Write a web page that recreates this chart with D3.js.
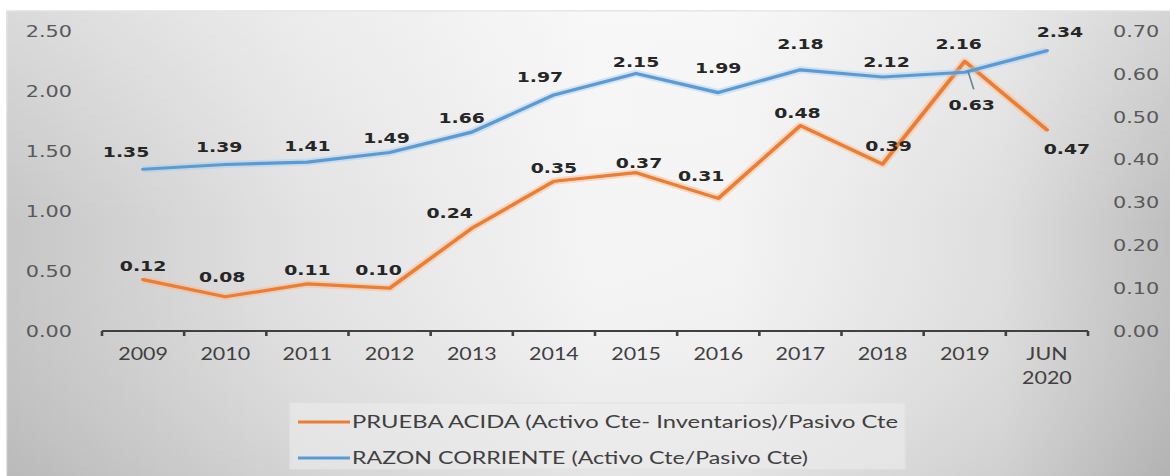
<!DOCTYPE html>
<html>
<head>
<meta charset="utf-8">
<script src="https://cdn.jsdelivr.net/npm/d3@7"></script>
<style>
  html, body { margin: 0; padding: 0; background: #fff; }
  svg { display: block; }
</style>
</head>
<body>
<svg id="chart"></svg>
<script>
// data
const years = ['2009', '2010', '2011', '2012', '2013', '2014', '2015', '2016', '2017', '2018', '2019', 'JUN 2020'];
const razonCorriente = [1.35, 1.39, 1.41, 1.49, 1.66, 1.97, 2.15, 1.99, 2.18, 2.12, 2.16, 2.34];
const pruebaAcida = [0.12, 0.08, 0.11, 0.10, 0.24, 0.35, 0.37, 0.31, 0.48, 0.39, 0.63, 0.47];
const leftTicks = [0, 0.5, 1, 1.5, 2, 2.5];
const rightTicks = [0, 0.1, 0.2, 0.3, 0.4, 0.5, 0.6, 0.7];
const legendNames = [
  'PRUEBA ACIDA (Activo Cte- Inventarios)/Pasivo Cte',
  'RAZON CORRIENTE (Activo Cte/Pasivo Cte)'
];

// hand placed label nudges (screen px), like the excel labels
const razonNudge = [[-17,-17],[-6,-18],[0,-16],[-3,-15],[-10,-14],[-14,-18],[0,-12],[0,-25],[0,-26],[4,-15],[-6,-28],[13,-19]];
const pruebaNudge = [[0,-14],[-3,-20],[0,-14],[-11,-18],[-22,-16],[0,-13],[3,-10],[-17,-23],[-3,-13],[6,-18],[7,43],[20,19]];

const W = 1170, H = 476;
const SX = 1.3;            // the picture is stretched sideways
const VW = W / SX;

const svg = d3.select('#chart')
  .attr('width', W)
  .attr('height', H)
  .attr('viewBox', `0 0 ${VW} ${H}`)
  .attr('preserveAspectRatio', 'none');

const defs = svg.append('defs');
const bg = defs.append('linearGradient').attr('id', 'bgH');
[[0, '#c6c6c6'], [0.25, '#e2e2e2'], [0.5, '#f4f4f4'], [0.62, '#f3f3f3'], [0.85, '#dedede'], [1, '#bdbdbd']]
  .forEach(s => bg.append('stop').attr('offset', s[0]).attr('stop-color', s[1]));
const bgV = defs.append('linearGradient').attr('id', 'bgV').attr('x2', 0).attr('y2', 1);
[[0, '#ffffff', 0.35], [0.45, '#ffffff', 0], [1, '#000000', 0.07]]
  .forEach(s => bgV.append('stop').attr('offset', s[0]).attr('stop-color', s[1]).attr('stop-opacity', s[2]));

// panel
svg.append('rect')
  .attr('x', 7 / SX).attr('y', 11)
  .attr('width', VW).attr('height', H)
  .attr('fill', 'url(#bgH)')
  .attr('stroke', '#d4d4d4').attr('stroke-width', 1);
svg.append('rect')
  .attr('x', 7 / SX).attr('y', 11)
  .attr('width', VW).attr('height', H)
  .attr('fill', 'url(#bgV)');

// scales
const x = d3.scaleBand().domain(years).range([102 / SX, 1088 / SX]);
const cx = d => x(d) + x.bandwidth() / 2;
const yL = d3.scaleLinear().domain([0, 2.5]).range([331, 31.5]);
const yR = d3.scaleLinear().domain([0, 0.7]).range([331, 31.5]);

// y axes
const leftAxis = svg.append('g')
  .attr('transform', `translate(${72 / SX},0)`)
  .call(d3.axisLeft(yL).tickValues(leftTicks).tickFormat(d3.format('.2f')).tickSize(0).tickPadding(0));
const rightAxis = svg.append('g')
  .attr('transform', `translate(${1113 / SX},0)`)
  .call(d3.axisRight(yR).tickValues(rightTicks).tickFormat(d3.format('.2f')).tickSize(0).tickPadding(0));
[leftAxis, rightAxis].forEach(g => {
  g.select('.domain').remove();
  g.selectAll('text')
    .attr('font-family', 'DejaVu Sans')
    .attr('font-size', 16)
    .attr('fill', '#595959');
});

// x axis: labels at the centres, ticks on the band edges
const xAxis = svg.append('g')
  .attr('transform', 'translate(0,331)')
  .call(d3.axisBottom(x).tickSize(0).tickPadding(17));
xAxis.select('.domain').remove();
xAxis.selectAll('text')
  .attr('font-family', 'Lato')
  .attr('font-size', 16.5)
  .attr('fill', '#404040')
  .each(function(d) {
    const parts = d.split(' ');
    if (parts.length > 1) {
      const t = d3.select(this).text(null);
      parts.forEach((p, i) => t.append('tspan').attr('x', 0).attr('dy', i === 0 ? '0.71em' : '1.45em').text(p));
    }
  });

svg.append('line')
  .attr('x1', x.range()[0]).attr('x2', x.range()[1])
  .attr('y1', 331).attr('y2', 331)
  .attr('stroke', '#404040').attr('stroke-width', 2);
svg.selectAll('.xtick')
  .data(d3.range(years.length + 1))
  .join('line')
  .attr('class', 'xtick')
  .attr('x1', i => x.range()[0] + i * x.step())
  .attr('x2', i => x.range()[0] + i * x.step())
  .attr('y1', 331).attr('y2', 336)
  .attr('stroke', '#404040').attr('stroke-width', 2);

// lines
const series = [
  {values: pruebaAcida, y: yR, color: '#ED7D31', glow: '#f6b98e', nudge: pruebaNudge},
  {values: razonCorriente, y: yL, color: '#5B9BD5', glow: '#a9cbea', nudge: razonNudge}
];

series.forEach(s => {
  const line = d3.line()
    .x((v, i) => cx(years[i]))
    .y(v => s.y(v));
  svg.append('path')
    .attr('d', line(s.values))
    .attr('fill', 'none')
    .attr('stroke', s.glow)
    .attr('stroke-opacity', 0.45)
    .attr('stroke-width', 7)
    .attr('stroke-linejoin', 'round');
  svg.append('path')
    .attr('d', line(s.values))
    .attr('fill', 'none')
    .attr('stroke', s.color)
    .attr('stroke-width', 3.2)
    .attr('stroke-linejoin', 'round')
    .attr('stroke-linecap', 'round');
});

// leader line for the 0.63 label
const iPeak = 10;
svg.append('line')
  .attr('x1', cx(years[iPeak]) + 3 / SX).attr('y1', yR(pruebaAcida[iPeak]) + 9)
  .attr('x2', cx(years[iPeak]) + 9 / SX).attr('y2', yR(pruebaAcida[iPeak]) + 28)
  .attr('stroke', '#5f8a95').attr('stroke-width', 1.3);

// data labels
series.forEach(s => {
  svg.append('g')
    .selectAll('text')
    .data(s.values)
    .join('text')
    .attr('x', (v, i) => cx(years[i]) + s.nudge[i][0] / SX)
    .attr('y', (v, i) => s.y(v) + s.nudge[i][1])
    .attr('dy', '0.36em')
    .attr('text-anchor', 'middle')
    .attr('font-family', 'DejaVu Sans')
    .attr('font-weight', 'bold')
    .attr('font-size', 14.5)
    .attr('fill', '#262626')
    .text(v => d3.format('.2f')(v));
});

// legend
const legend = svg.append('g');
legend.append('rect')
  .attr('x', 290 / SX).attr('y', 403)
  .attr('width', 615 / SX).attr('height', 66)
  .attr('fill', '#ececec').attr('fill-opacity', 0.6)
  .attr('stroke', '#e2e2e2');
const legendColors = [series[0].color, series[1].color];
const legendLen = [546 / SX, 456 / SX];
legendNames.forEach((name, i) => {
  const ly = 422 + i * 36;
  legend.append('line')
    .attr('x1', 298 / SX).attr('x2', 350 / SX)
    .attr('y1', ly).attr('y2', ly)
    .attr('stroke', legendColors[i]).attr('stroke-width', 3.2);
  legend.append('text')
    .attr('x', 352 / SX).attr('y', ly)
    .attr('dy', '0.35em')
    .attr('font-family', 'Lato')
    .attr('font-size', 17)
    .attr('fill', '#404040')
    .attr('textLength', legendLen[i])
    .attr('lengthAdjust', 'spacingAndGlyphs')
    .text(name);
});
</script>
</body>
</html>
